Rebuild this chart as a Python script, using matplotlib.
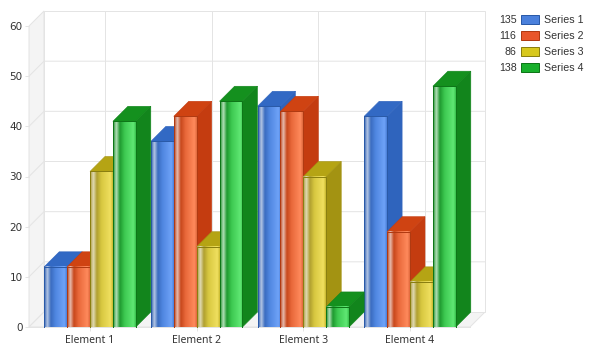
import numpy as np
import matplotlib
matplotlib.use('Agg')
import matplotlib.pyplot as plt
from matplotlib.colors import LinearSegmentedColormap
from matplotlib.patches import Polygon, Rectangle

categories = ['Element 1', 'Element 2', 'Element 3', 'Element 4']
series_names = ['Series 1', 'Series 2', 'Series 3', 'Series 4']
series_1 = [12, 37, 44, 42]
series_2 = [12, 42, 43, 19]
series_3 = [31, 16, 30, 9]
series_4 = [41, 45, 4, 48]
series_totals = [135, 116, 86, 138]
y_ticks = [0, 10, 20, 30, 40, 50, 60]

all_series = [series_1, series_2, series_3, series_4]
# dark edge, gradient stops, side colour, top colour
styles = [
    {'edge': '#2a5aa8', 'side': '#2f64bd', 'top': '#3269c4',
     'stops': ['#2f5fae', '#b4c6e4', '#3a6cc0', '#4f86e0', '#6fa3f8', '#4a7fd8']},
    {'edge': '#b03a12', 'side': '#c43c10', 'top': '#cf4312',
     'stops': ['#b8401a', '#e6bcae', '#c8481c', '#e8683a', '#ff8a5c', '#e0683c']},
    {'edge': '#8a7f10', 'side': '#a39312', 'top': '#b5a414',
     'stops': ['#a8983c', '#e0dab4', '#b0a030', '#d8c840', '#f0e060', '#c8b830']},
    {'edge': '#0e7618', 'side': '#12851c', 'top': '#14901e',
     'stops': ['#1f8f2c', '#b4dfb8', '#1f9a30', '#3cc850', '#60e874', '#38c04c']},
]

W, H = 591, 354
fig = plt.figure(figsize=(W / 100, H / 100), dpi=100)
fig.patch.set_facecolor('white')
plt.rcParams['font.family'] = ['DejaVu Sans']

# front plane of the chart box, in pixels
left, right, bottom, top = 29, 470, 327, 26
ax = fig.add_axes([left / W, 1 - bottom / H, (right - left) / W, (bottom - top) / H])
cat_step = 106.67
x0 = (left - 90) / cat_step
x1 = (right - 90) / cat_step
ax.set_xlim(x0, x1)
ax.set_ylim(0, 60)
ax.patch.set_alpha(0)
for s in ax.spines.values():
    s.set_visible(False)

depth = 15
dx = depth / cat_step
dy = depth * 60 / (bottom - top)
grid_c = '#e4e4e4'
lw_px = 0.72

# walls
ax.add_patch(Polygon([(x0, 0), (x0 + dx, dy), (x0 + dx, 60 + dy), (x0, 60)],
                     closed=True, fc='#f4f4f4', ec=grid_c, lw=lw_px, clip_on=False, zorder=1))
ax.add_patch(Polygon([(x0, 0), (x1, 0), (x1 + dx, dy), (x0 + dx, dy)],
                     closed=True, fc='#f4f4f4', ec=grid_c, lw=lw_px, clip_on=False, zorder=1))
ax.add_patch(Rectangle((x0 + dx, dy), x1 - x0, 60, fc='white', ec=grid_c, lw=lw_px,
                       clip_on=False, zorder=1))
for v in y_ticks[1:-1]:
    ax.plot([x0, x0 + dx, x1 + dx], [v, v + dy, v + dy], color=grid_c, lw=lw_px,
            clip_on=False, zorder=2)
for i in range(len(categories)):
    ax.plot([i + dx, i + dx], [dy, 60 + dy], color=grid_c, lw=lw_px, clip_on=False, zorder=2)
    ax.plot([i, i + dx], [0, dy], color=grid_c, lw=lw_px, clip_on=False, zorder=2)

bar_w = 22.9 / cat_step
positions = [0, 0.14, 0.3, 0.5, 0.9, 1]
z = 3
for s_idx, (vals, st) in enumerate(zip(all_series, styles)):
    cmap = LinearSegmentedColormap.from_list(series_names[s_idx], list(zip(positions, st['stops'])))
    grad = np.linspace(0, 1, 64).reshape(1, -1)
    for c_idx, v in enumerate(vals):
        xl = c_idx + (s_idx - 2) * bar_w
        xr = xl + bar_w
        ax.add_patch(Polygon([(xr, 0), (xr + dx, dy), (xr + dx, v + dy), (xr, v)],
                             closed=True, fc=st['side'], ec=st['side'], lw=0.4,
                             clip_on=False, zorder=z + s_idx * 4))
        ax.add_patch(Polygon([(xl, v), (xl + dx, v + dy), (xr + dx, v + dy), (xr, v)],
                             closed=True, fc=st['top'], ec=st['side'], lw=0.4,
                             clip_on=False, zorder=z + s_idx * 4 + 1))
        ax.imshow(grad, extent=(xl, xr, 0, v), aspect='auto', cmap=cmap, origin='lower',
                  zorder=z + s_idx * 4 + 2, clip_on=False, interpolation='bilinear')
        ax.plot([xl, xl, xr, xr], [0, v, v, 0], color=st['edge'], lw=lw_px,
                clip_on=False, zorder=z + s_idx * 4 + 3)
ax.set_xlim(x0, x1)
ax.set_ylim(0, 60)

ax.set_xticks(range(len(categories)))
ax.set_xticklabels(categories, fontsize=7.5, color='#333333', family='Noto Sans')
ax.set_yticks(y_ticks)
ax.set_yticklabels([str(v) for v in y_ticks], fontsize=7.5, color='#333333')
ax.tick_params(axis='y', length=3, width=lw_px, color=grid_c, pad=1.5)
ax.tick_params(axis='x', length=3, width=lw_px, color=grid_c, pad=2.5)
ax.plot([x0, x1], [0, 0], color=grid_c, lw=lw_px, clip_on=False, zorder=2)

# legend
leg_face = ['#4a80dc', '#e8562a', '#d8c81c', '#18b02c']
leg_edge = ['#2a5aa8', '#b03a12', '#8a7f10', '#0e7618']
for i, (name, total) in enumerate(zip(series_names, series_totals)):
    yc = (19.7 + 16 * i) / H
    fig.text(516.5 / W, 1 - yc, str(total), ha='right', va='center', fontsize=7.7,
             color='#333333', family='Liberation Sans')
    fig.patches.append(Rectangle((520.5 / W, 1 - yc - 4.2 / H), 18 / W, 8.5 / H, fc=leg_face[i],
                                 ec=leg_edge[i], lw=lw_px, transform=fig.transFigure))
    fig.text(543.5 / W, 1 - yc, name, ha='left', va='center', fontsize=7.7,
             color='#333333', family='Liberation Sans')

fig.savefig('out.png', dpi=100)
